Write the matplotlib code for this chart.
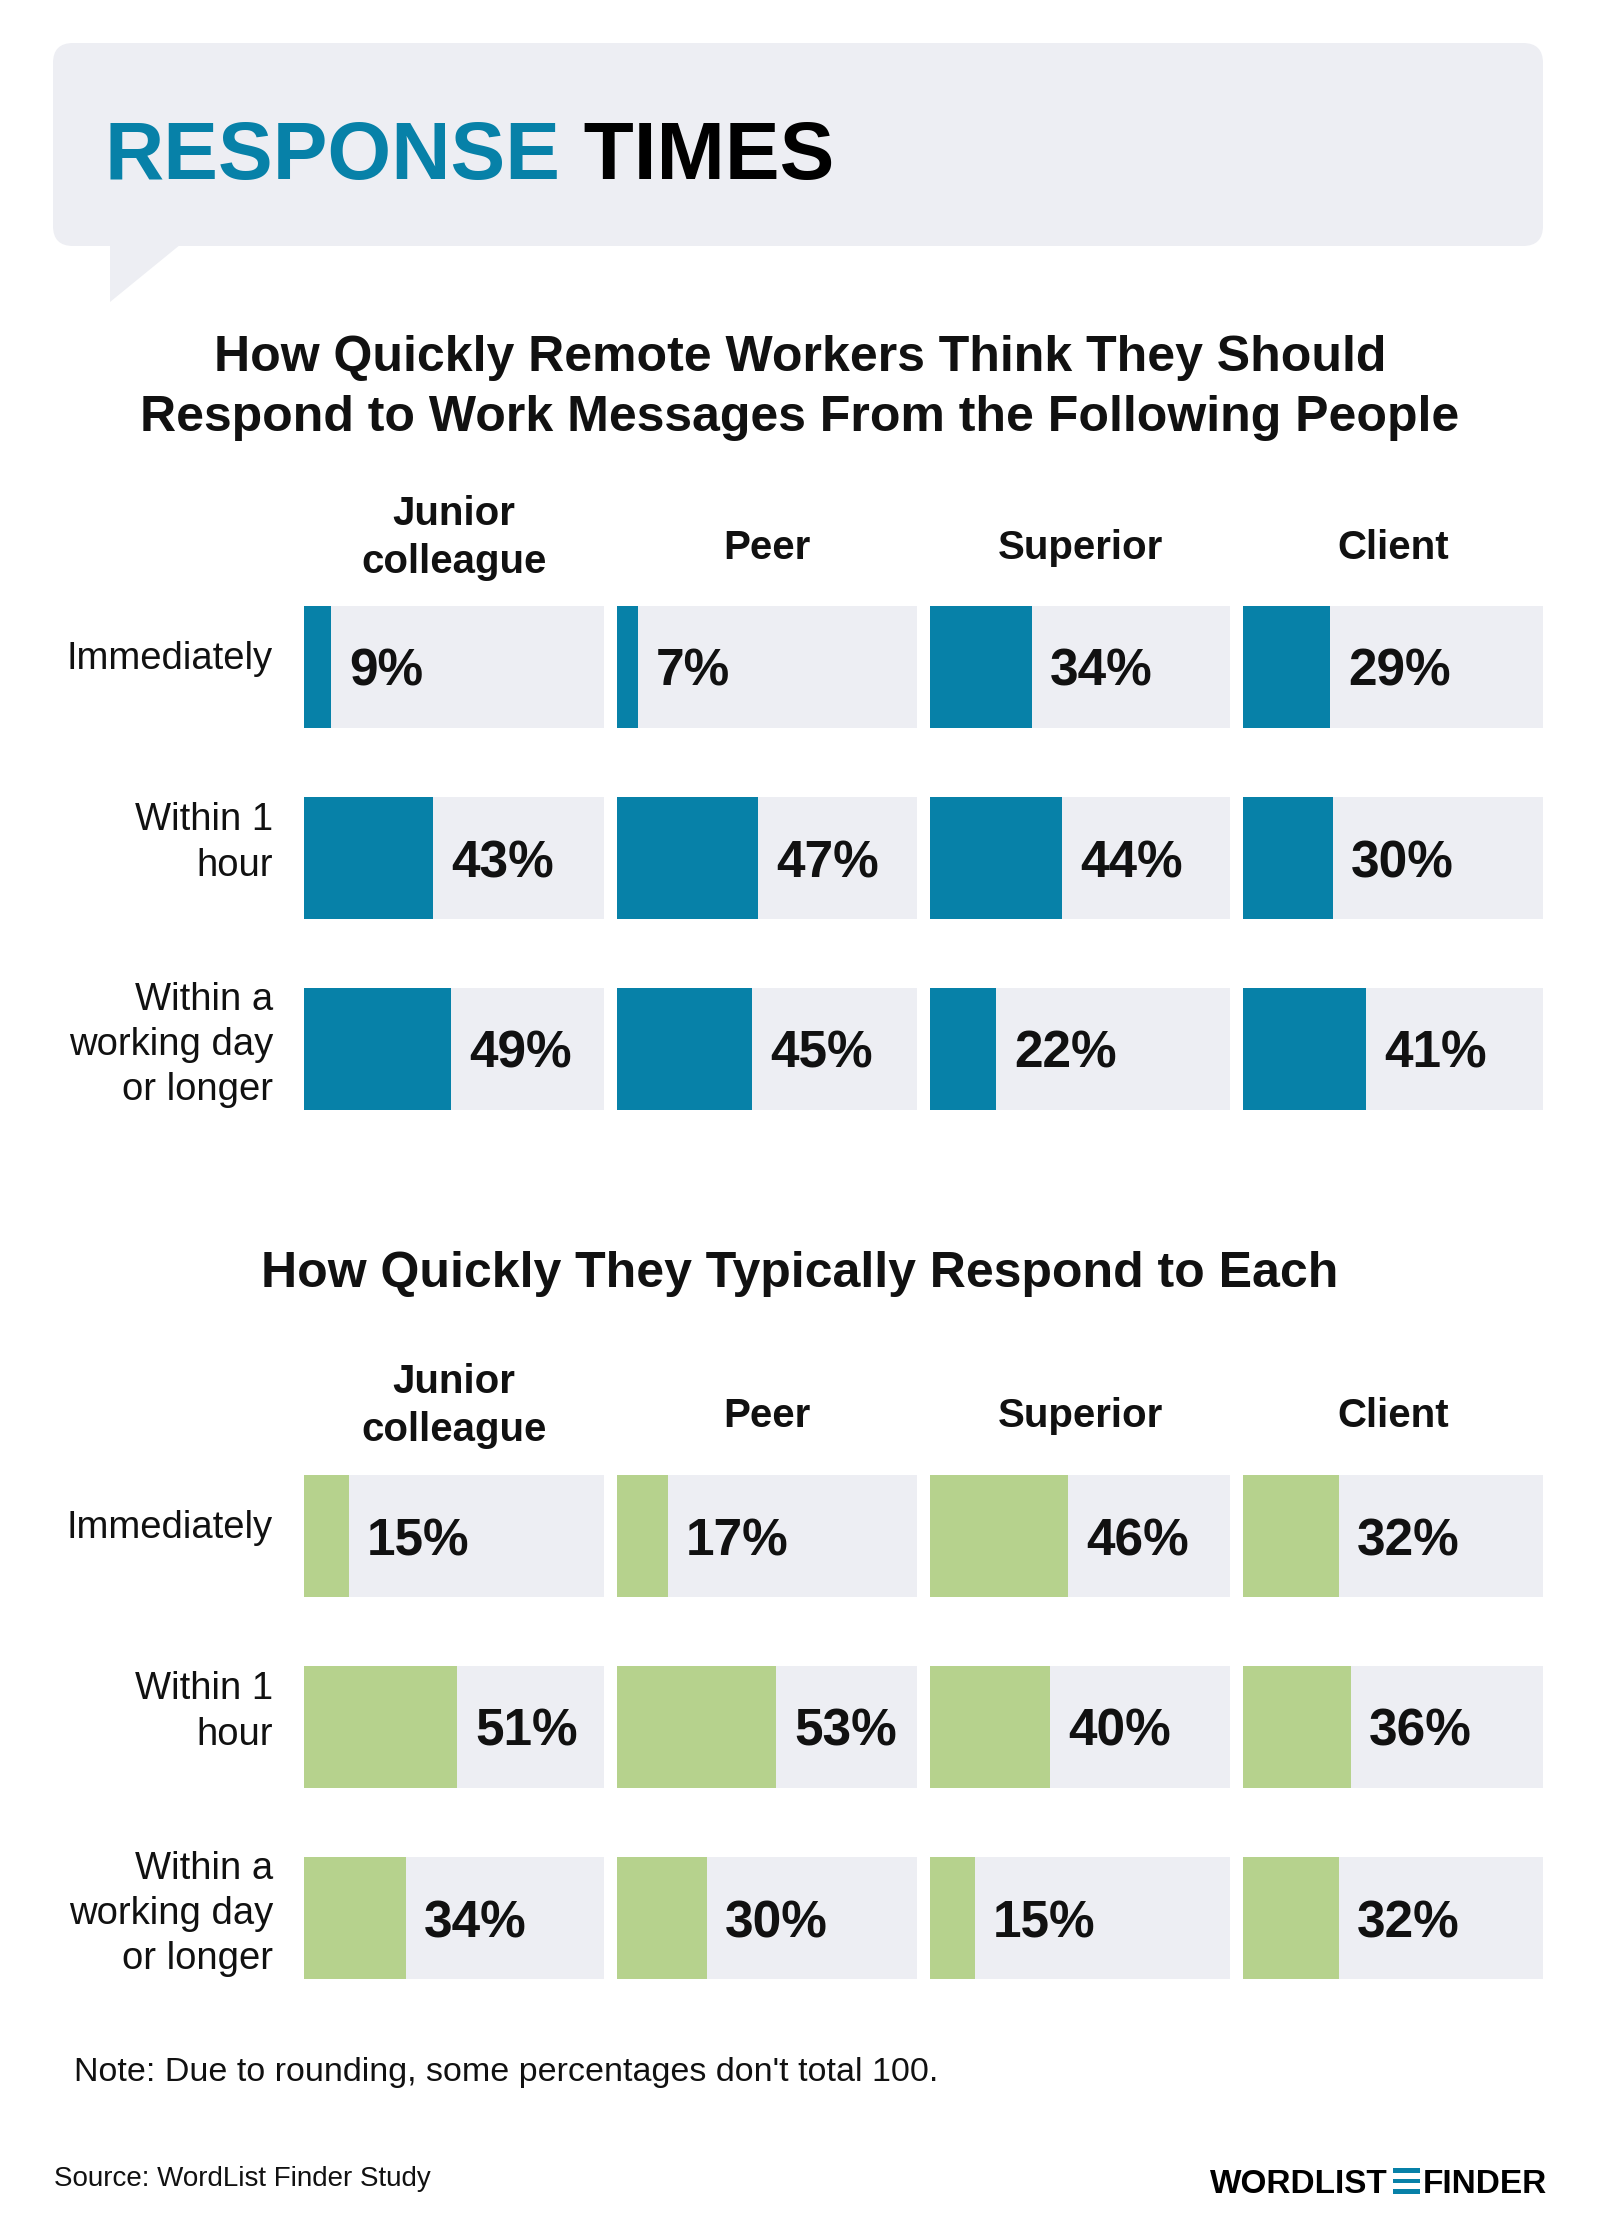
import numpy as np
import matplotlib.pyplot as plt
from matplotlib import font_manager
from matplotlib.patches import FancyBboxPatch, Polygon, Rectangle

# ---- data (share of remote workers, %) ----
columns = ["Junior\ncolleague", "Peer", "Superior", "Client"]
rows = ["Immediately", "Within 1\nhour", "Within a\nworking day\nor longer"]

# rows x columns
should_respond = [[9, 7, 34, 29],
                  [43, 47, 44, 30],
                  [49, 45, 22, 41]]
typically_respond = [[15, 17, 46, 32],
                     [51, 53, 40, 36],
                     [34, 30, 15, 32]]

title_1 = "How Quickly Remote Workers Think They Should\nRespond to Work Messages From the Following People"
title_2 = "How Quickly They Typically Respond to Each"
note = "Note: Due to rounding, some percentages don't total 100."
source = "Source: WordList Finder Study"

# ---- style ----
BLUE = "#0781a8"
GREEN = "#b6d28d"
CELL = "#edeef3"
INK = "#111111"

installed = {f.name for f in font_manager.fontManager.ttflist}
SANS = "Liberation Sans"
NARROW = "Liberation Sans Narrow" if "Liberation Sans Narrow" in installed else SANS
plt.rcParams["font.family"] = [SANS, "DejaVu Sans"]

W, H = 1600, 2230
fig = plt.figure(figsize=(W / 100, H / 100), dpi=100)
fig.patch.set_facecolor("white")

# overlay axes in pixel coordinates for header / labels
bg = fig.add_axes([0, 0, 1, 1])
bg.set_xlim(0, W)
bg.set_ylim(H, 0)
bg.axis("off")

# header speech box
box = FancyBboxPatch((53, 43), 1490, 203, boxstyle="round,pad=0,rounding_size=20",
                     facecolor=CELL, edgecolor="none")
bg.add_patch(box)
bg.add_patch(Polygon([(110, 240), (186, 240), (110, 302)], closed=True,
                     facecolor=CELL, edgecolor="none"))
t1 = bg.text(105, 179, "RESPONSE", fontsize=59, fontweight="bold", color=BLUE,
             family=[NARROW, "DejaVu Sans"], va="baseline", ha="left")
bg.annotate(" TIMES", xy=(1, 0), xycoords=t1, va="bottom", ha="left",
            fontsize=59, fontweight="bold", color="black", family=[NARROW, "DejaVu Sans"])

col_left = [304, 617, 930, 1243]
col_w = 300
row_h = 122
row_pitch = 191
label_dy = [-8, -15, -4]


def draw_panel(values, color, row_top, header_y):
    span = 2 * row_pitch + row_h
    hh = row_h / row_pitch
    y = np.arange(len(rows))
    for j, col in enumerate(columns):
        x0 = col_left[j]
        ax = fig.add_axes([x0 / W, 1 - (row_top + span) / H, col_w / W, span / H])
        vals = [values[i][j] for i in range(len(rows))]
        ax.barh(y, [100] * len(rows), height=hh, color=CELL)
        ax.barh(y, vals, height=hh, color=color)
        ax.set_xlim(0, 100)
        ax.set_ylim(len(rows) - 1 + hh / 2, -hh / 2)
        ax.axis("off")
        for i, v in enumerate(vals):
            ax.text(v + 6, i, f"{v}%", va="center_baseline", ha="left", fontsize=37,
                    fontweight="bold", color=INK)
        # column header
        hy = header_y if "\n" in col else header_y + 10
        bg.text(x0 + col_w / 2, hy, col, ha="center", va="center", fontsize=29,
                fontweight="bold", color=INK, linespacing=1.32)
    for i, lab in enumerate(rows):
        yc = row_top + i * row_pitch + row_h / 2 + label_dy[i]
        bg.text(273, yc, lab, ha="right", va="center", fontsize=27.5, color=INK,
                linespacing=1.33)


bg.text(800, 388, title_1, ha="center", va="center", fontsize=36, fontweight="bold",
        color=INK, linespacing=1.38)
draw_panel(should_respond, BLUE, 606, 538)

bg.text(800, 1274, title_2, ha="center", va="center", fontsize=36, fontweight="bold",
        color=INK)
draw_panel(typically_respond, GREEN, 1475, 1406)

bg.text(74, 2072, note, ha="left", va="center", fontsize=24.5, color=INK,
        family=[NARROW, "DejaVu Sans"])
bg.text(54, 2179, source, ha="left", va="center", fontsize=20, color=INK,
        family=[NARROW, "DejaVu Sans"])

# logo
bg.text(1388, 2193, "WORDLIST", ha="right", va="baseline", fontsize=24,
        fontweight="bold", color="black")
bg.text(1547, 2193, "FINDER", ha="right", va="baseline", fontsize=24,
        fontweight="bold", color="black")
for yb in [2168, 2178.5, 2189]:
    bg.add_patch(Rectangle((1393, yb), 27, 4.5, facecolor=BLUE, edgecolor="none"))

fig.savefig("out.png", dpi=100)
